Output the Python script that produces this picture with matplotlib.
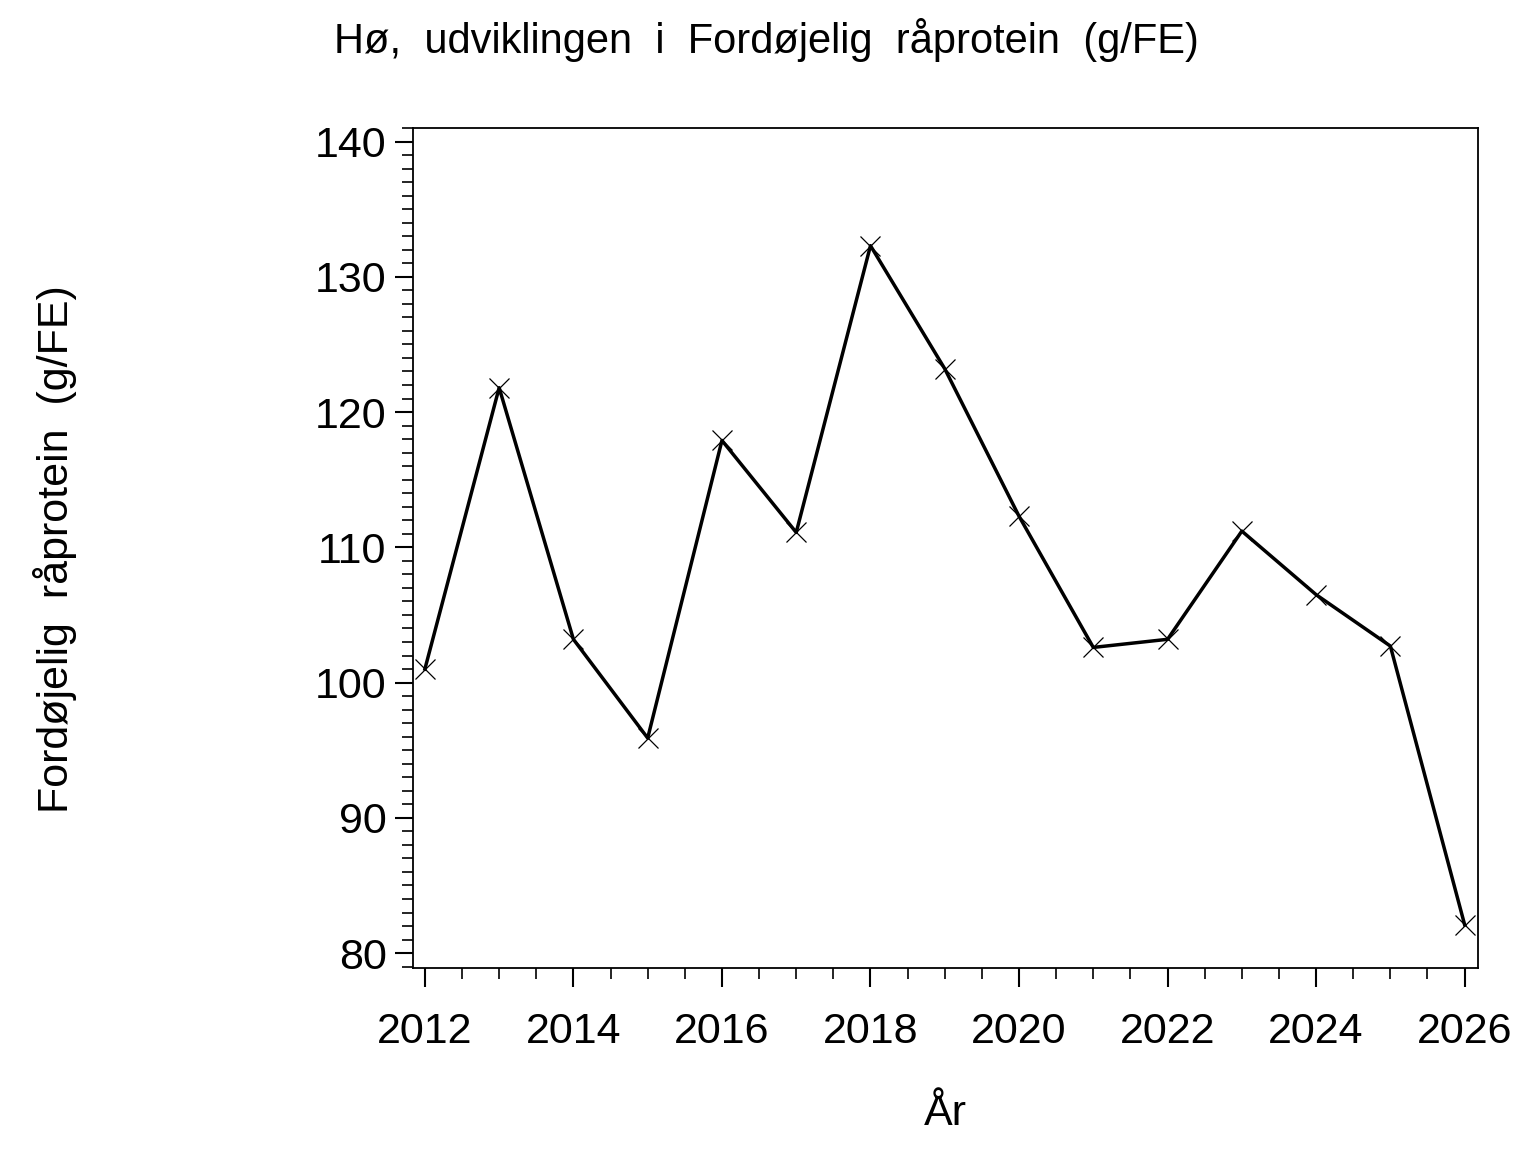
import matplotlib
matplotlib.use("Agg")
import matplotlib.pyplot as plt
from matplotlib.ticker import MultipleLocator

plt.rcParams['font.family'] = ['Liberation Sans', 'DejaVu Sans']

years = [2012, 2013, 2014, 2015, 2016, 2017, 2018, 2019, 2020,
         2021, 2022, 2023, 2024, 2025, 2026]
protein = [101.0, 121.8, 103.2, 95.9, 117.9, 111.1, 132.3, 123.2, 112.3,
           102.6, 103.2, 111.2, 106.5, 102.7, 82.1]

fig = plt.figure(figsize=(15.36, 11.52), dpi=100)
ax = fig.add_axes([413/1536, 1 - 968/1152, (1478-413)/1536, (968-128)/1152])

ax.plot(years, protein, color='black', lw=2.5, marker='x', ms=14, mew=0.9)

ax.set_xlim(2011.84, 2026.18)
ax.set_ylim(78.9, 141.0)
ax.xaxis.set_major_locator(MultipleLocator(2))
ax.xaxis.set_minor_locator(MultipleLocator(0.5))
ax.yaxis.set_major_locator(MultipleLocator(10))
ax.yaxis.set_minor_locator(MultipleLocator(1))
ax.tick_params(which='major', direction='out', length=14, width=1.5, labelsize=31, pad=18)
ax.tick_params(which='minor', direction='out', length=8, width=1.2)
ax.tick_params(axis='y', which='major', length=13, pad=6)
for s in ax.spines.values():
    s.set_linewidth(1.3)

ax.set_xlabel('År', fontsize=31, labelpad=30)
fig.text(55/1536, 1 - 549/1152, 'Fordøjelig  råprotein  (g/FE)', fontsize=31,
         rotation=90, ha='center', va='center')
fig.text(766/1536, 1 - 40/1152, 'Hø,  udviklingen  i  Fordøjelig  råprotein  (g/FE)',
         fontsize=30, ha='center', va='center')

fig.savefig('out.png', dpi=100)
